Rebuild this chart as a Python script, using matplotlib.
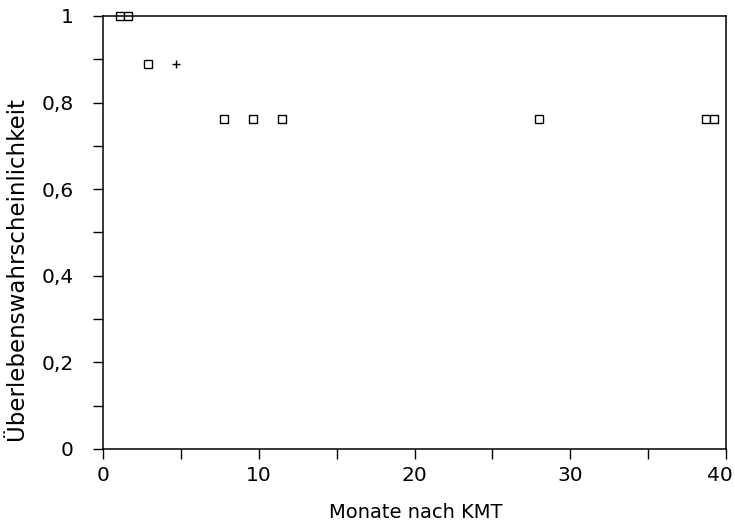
import matplotlib
matplotlib.use("Agg")
import matplotlib.pyplot as plt
from matplotlib.ticker import MultipleLocator, FuncFormatter
from matplotlib.transforms import ScaledTranslation

# Data (censored observations on the survival curve)
sq_x = [1.1, 1.6, 2.9, 7.8, 9.6, 11.5, 28.0, 38.7, 39.2]
sq_y = [1.0, 1.0, 0.889, 0.762, 0.762, 0.762, 0.762, 0.762, 0.762]
plus_x = [4.7]
plus_y = [0.889]

xlabel = "Monate nach KMT"
ylabel = "Überlebenswahrscheinlichkeit"

plt.rcParams['font.family'] = ['DejaVu Sans']

fig = plt.figure(figsize=(7.35, 5.29), dpi=100)
L, R, T, B = 103, 726, 16, 449
ax = fig.add_axes([L/735, 1-B/529, (R-L)/735, (B-T)/529])

ax.plot(sq_x, sq_y, linestyle='none', marker='s', markersize=6,
        markerfacecolor='white', markeredgecolor='black', markeredgewidth=1.0, clip_on=False)
ax.plot(plus_x, plus_y, linestyle='none', marker='+', markersize=6,
        color='black', markeredgewidth=1.0, clip_on=False)

ax.set_xlim(0, 40)
ax.set_ylim(0, 1)

ax.xaxis.set_major_locator(MultipleLocator(10))
ax.xaxis.set_minor_locator(MultipleLocator(5))
ax.yaxis.set_major_locator(MultipleLocator(0.2))
ax.yaxis.set_minor_locator(MultipleLocator(0.1))

def yfmt(v, pos):
    if abs(v) < 1e-9:
        return "0"
    if abs(v - 1) < 1e-9:
        return "1"
    return ("%.1f" % v).replace('.', ',')

ax.yaxis.set_major_formatter(FuncFormatter(yfmt))

ax.tick_params(axis='both', which='both', direction='out', top=False, right=False,
               width=1.0, color='black')
ax.tick_params(axis='x', which='both', length=7, pad=5, labelsize=14.5)
ax.tick_params(axis='y', which='both', length=7, pad=14, labelsize=14.5)

for s in ax.spines.values():
    s.set_linewidth(1.1)

ax.set_xlabel(xlabel, fontsize=14)
ax.set_ylabel(ylabel, fontsize=16.5)
ax.xaxis.set_label_coords((416 - L)/(R - L), -0.125)
ax.yaxis.set_label_coords(-(L-28)/(R-L), 0.417)

fig.canvas.draw()
last = ax.xaxis.get_major_ticks()[-1]
for t in ax.xaxis.get_major_ticks():
    if abs(t.get_loc() - 40) < 1e-9:
        t.label1.set_transform(t.label1.get_transform() +
                               ScaledTranslation(-6/100, 0, fig.dpi_scale_trans))

fig.savefig("out.png", dpi=100)
